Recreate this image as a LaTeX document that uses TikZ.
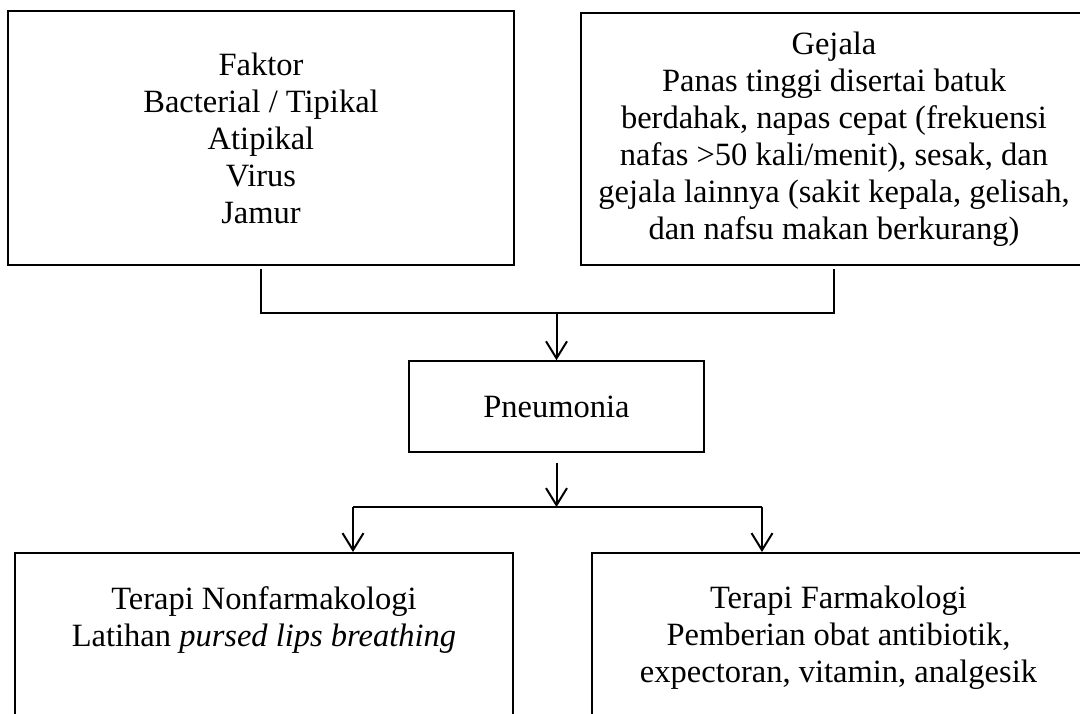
\documentclass[tikz,border=0pt]{standalone}
\usepackage{fontspec}
\setmainfont{Liberation Serif}
\usetikzlibrary{arrows.meta}
\begin{document}
\begin{tikzpicture}[x=1pt,y=-1pt,
  txt/.style={align=center,inner sep=0pt,font=\fontsize{32.5}{37}\selectfont},
  box/.style={draw,line width=1.6pt,txt},
  conn/.style={line width=2pt},
  arr/.style={conn,-{Straight Barb[length=17pt,width=21pt]}}]
\useasboundingbox (0,0) rectangle (1080,713);
\fill[white] (0,0) rectangle (1080,713);
\clip (0,0) rectangle (1080,713);

\node[box,minimum width=506pt,minimum height=254pt] (faktor) at (261,138)
  {Faktor\\Bacterial / Tipikal\\Atipikal\\Virus\\Jamur};
\node[box,minimum width=506pt,minimum height=252pt] (gejala) at (834,139)
  {Gejala\\Panas tinggi disertai batuk\\berdahak, napas cepat (frekuensi\\nafas >50 kali/menit), sesak, dan\\gejala lainnya (sakit kepala, gelisah,\\dan nafsu makan berkurang)};
\node[box,minimum width=295pt,minimum height=91pt] (pneu) at (556.5,406.5) {Pneumonia};

\node[box,minimum width=498pt,minimum height=240pt,anchor=north] (nonf) at (264,552) {};
\node[txt,anchor=north] (nonft) at ([yshift=-34pt]nonf.north)
  {Terapi Nonfarmakologi\\Latihan \textit{pursed lips breathing}};
\node[box,minimum width=493pt,minimum height=240pt,anchor=north] (farm) at (838.5,552) {};
\node[txt,anchor=north] (farmt) at ([yshift=-34pt]farm.north)
  {Terapi Farmakologi\\Pemberian obat antibiotik,\\expectoran, vitamin, analgesik};

\coordinate (h1) at (0,313);
\coordinate (h2) at (0,507);
\coordinate (j) at (pneu.north |- h1);
\coordinate (k) at (pneu.south |- h2);
\coordinate (bl) at (353,507);
\coordinate (br) at (762,507);

\draw[conn] ([yshift=-3pt]faktor.south) |- (j) -| ([yshift=-3pt]gejala.south);
\draw[arr] (j) -- (pneu.north);
\draw[arr] ([yshift=-10pt]pneu.south) -- (k);
\draw[conn] (bl) -- (br);
\draw[arr] (bl) -- (bl |- nonf.north);
\draw[arr] (br) -- (br |- farm.north);
\end{tikzpicture}
\end{document}
